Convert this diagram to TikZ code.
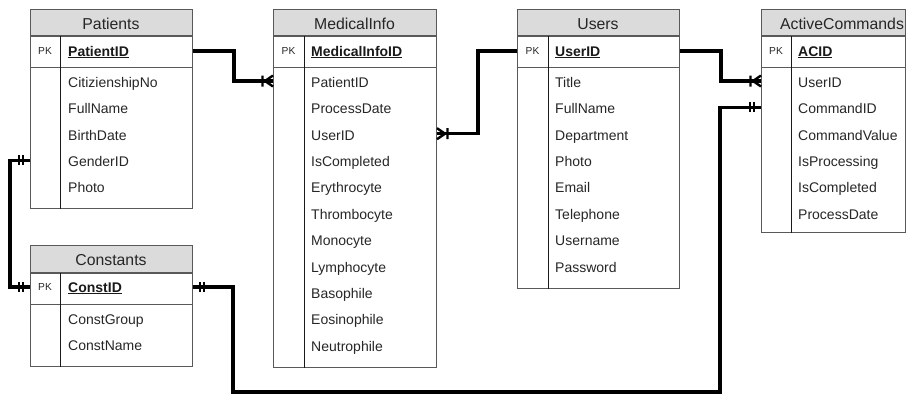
\documentclass[tikz,border=0pt]{standalone}
\usepackage{fontspec}
\setmainfont{Liberation Sans}
\usetikzlibrary{positioning}

\begin{document}
\begin{tikzpicture}[x=1pt, y=-1pt,
  tbl/.style={draw=black!65, line width=1pt, anchor=north west, inner sep=0pt},
  hdr/.style={tbl, fill=black!14, minimum height=26pt},
  title/.style={inner sep=0pt, text height=11.3pt, text depth=0pt, text=black!85, font=\fontsize{15.8}{18}\selectfont},
  pk/.style={inner sep=0pt, text height=7.3pt, text depth=0pt, text=black!85, font=\fontsize{10.2}{12}\selectfont},
  key/.style={anchor=west, inner sep=0pt, text height=10pt, text depth=0pt, text=black!90, font=\fontsize{14}{16}\selectfont\bfseries},
  col/.style={anchor=west, inner sep=0pt, text height=13pt, text depth=0pt, text=black!85, font=\fontsize{14}{16}\selectfont},
  sep/.style={draw=black!90, line width=1pt},
  rel/.style={line width=3.2pt},
  onlyone/.pic={\draw[line width=2.2pt] (-11,-5) -- (-11,5) (-7,-5) -- (-7,5);},
  onemany/.pic={\draw[line width=2.4pt] (-10.5,-5.5) -- (-10.5,5.5) (0,-5.5) -- (-8,0) -- (0,5.5);}]

  \useasboundingbox (0,0) rectangle (912,394);

  % Patients
  \node[tbl, minimum width=162pt, minimum height=199pt] (patients) at (30,9) {};
  \node[hdr, minimum width=162pt] (patients-h) at (30,9) {};
  \node[tbl, minimum width=162pt, minimum height=31pt, below=0pt of patients-h] (patients-k) {};
  \draw[sep] ([xshift=30pt]patients-k.north west) -- ([xshift=30pt]patients.south west);
  \node[title] (patients-t) at (111,23.5) {Patients};
  \node[pk] (patients-pk) at (45,51) {PK};
  \node[key] (p-id) at (68,51) {\underline{PatientID}};
  \node[col] (p-citizen) at (68,81) {CitizienshipNo};
  \node[col] (p-name) at (68,107.4) {FullName};
  \node[col] (p-birth) at (68,133.7) {BirthDate};
  \node[col] (p-gender) at (68,160.1) {GenderID};
  \node[col] (p-photo) at (68,186.4) {Photo};

  % MedicalInfo
  \node[tbl, minimum width=163pt, minimum height=358pt] (medinfo) at (273,9) {};
  \node[hdr, minimum width=163pt] (medinfo-h) at (273,9) {};
  \node[tbl, minimum width=163pt, minimum height=31pt, below=0pt of medinfo-h] (medinfo-k) {};
  \draw[sep] ([xshift=31pt]medinfo-k.north west) -- ([xshift=31pt]medinfo.south west);
  \node[title] (medinfo-t) at (354.5,23.5) {MedicalInfo};
  \node[pk] (medinfo-pk) at (288.5,51) {PK};
  \node[key] (m-id) at (311,51) {\underline{MedicalInfoID}};
  \node[col] (m-patient) at (311,81) {PatientID};
  \node[col] (m-date) at (311,107.4) {ProcessDate};
  \node[col] (m-user) at (311,133.7) {UserID};
  \node[col] (m-done) at (311,160.1) {IsCompleted};
  \node[col] (m-ery) at (311,186.4) {Erythrocyte};
  \node[col] (m-thr) at (311,212.8) {Thrombocyte};
  \node[col] (m-mon) at (311,239.1) {Monocyte};
  \node[col] (m-lym) at (311,265.5) {Lymphocyte};
  \node[col] (m-bas) at (311,291.8) {Basophile};
  \node[col] (m-eos) at (311,318.2) {Eosinophile};
  \node[col] (m-neu) at (311,344.5) {Neutrophile};

  % Users
  \node[tbl, minimum width=162pt, minimum height=279pt] (users) at (517,9) {};
  \node[hdr, minimum width=162pt] (users-h) at (517,9) {};
  \node[tbl, minimum width=162pt, minimum height=31pt, below=0pt of users-h] (users-k) {};
  \draw[sep] ([xshift=31pt]users-k.north west) -- ([xshift=31pt]users.south west);
  \node[title] (users-t) at (598,23.5) {Users};
  \node[pk] (users-pk) at (532.5,51) {PK};
  \node[key] (u-id) at (555,51) {\underline{UserID}};
  \node[col] (u-title) at (555,81) {Title};
  \node[col] (u-name) at (555,107.4) {FullName};
  \node[col] (u-dept) at (555,133.7) {Department};
  \node[col] (u-photo) at (555,160.1) {Photo};
  \node[col] (u-mail) at (555,186.4) {Email};
  \node[col] (u-phone) at (555,212.8) {Telephone};
  \node[col] (u-login) at (555,239.1) {Username};
  \node[col] (u-pass) at (555,265.5) {Password};

  % ActiveCommands
  \node[tbl, minimum width=144pt, minimum height=223pt] (acmd) at (761,9) {};
  \node[hdr, minimum width=144pt] (acmd-h) at (761,9) {};
  \node[tbl, minimum width=144pt, minimum height=31pt, below=0pt of acmd-h] (acmd-k) {};
  \draw[sep] ([xshift=30pt]acmd-k.north west) -- ([xshift=30pt]acmd.south west);
  \node[title] (acmd-t) at (842,23.5) {ActiveCommands};
  \node[pk] (acmd-pk) at (776,51) {PK};
  \node[key] (a-id) at (798,51) {\underline{ACID}};
  \node[col] (a-user) at (798,81) {UserID};
  \node[col] (a-cmd) at (798,107.4) {CommandID};
  \node[col] (a-value) at (798,133.7) {CommandValue};
  \node[col] (a-busy) at (798,160.1) {IsProcessing};
  \node[col] (a-done) at (798,186.4) {IsCompleted};
  \node[col] (a-date) at (798,212.8) {ProcessDate};

  % Constants
  \node[tbl, minimum width=162pt, minimum height=121pt] (consts) at (30,245) {};
  \node[hdr, minimum width=162pt, minimum height=27pt] (consts-h) at (30,245) {};
  \node[tbl, minimum width=162pt, minimum height=31pt, below=0pt of consts-h] (consts-k) {};
  \draw[sep] ([xshift=30pt]consts-k.north west) -- ([xshift=30pt]consts.south west);
  \node[title] (consts-t) at (111,260) {Constants};
  \node[pk] (consts-pk) at (45,287) {PK};
  \node[key] (c-id) at (68,287) {\underline{ConstID}};
  \node[col] (c-group) at (68,318) {ConstGroup};
  \node[col] (c-name) at (68,344.3) {ConstName};

  % relations
  \coordinate (low) at (720,392);
  \draw[rel] (p-id -| patients.east) -- ++(41,0) |- (m-patient -| medinfo.west);
  \draw[rel] (m-user -| medinfo.east) -- ++(41,0) |- (u-id -| users.west);
  \draw[rel] (u-id -| users.east) -- ++(41,0) |- (a-user -| acmd.west);
  \draw[rel] (c-id -| consts.east) -- ++(40,0) |- (low) |- (a-cmd -| acmd.west);
  \draw[rel] (p-gender -| patients.west) -- ++(-20,0) |- (c-id -| consts.west);

  % relation ends
  \pic at (m-patient -| medinfo.west) {onemany};
  \pic[rotate=180] at (m-user -| medinfo.east) {onemany};
  \pic at (a-user -| acmd.west) {onemany};
  \pic at (p-gender -| patients.west) {onlyone};
  \pic at (c-id -| consts.west) {onlyone};
  \pic[rotate=180] at (c-id -| consts.east) {onlyone};
  \pic at (a-cmd -| acmd.west) {onlyone};
\end{tikzpicture}
\end{document}
